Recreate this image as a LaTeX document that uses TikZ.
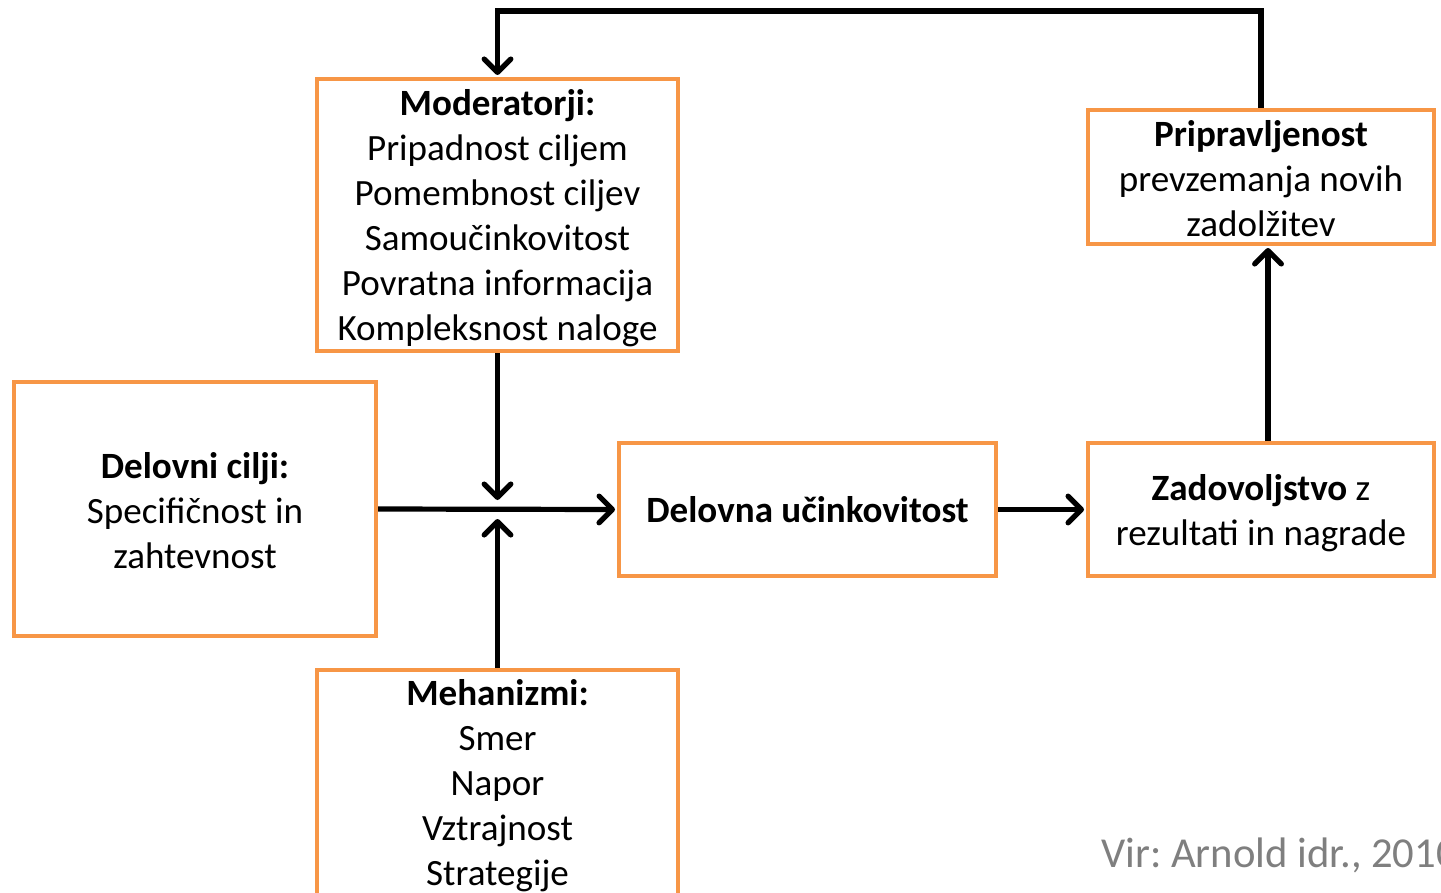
\documentclass[tikz,border=0pt]{standalone}
\usepackage{fontspec}
\setmainfont{Carlito}
\usetikzlibrary{arrows.meta}
\definecolor{boxorange}{HTML}{F79646}
\definecolor{srcgray}{HTML}{7F7F7F}
\frenchspacing
\tikzset{
  box/.style={draw=boxorange, line width=3pt, fill=white, inner sep=0pt},
  txt/.style={align=center, inner sep=0pt, font=\fontsize{27.8}{33.75}\selectfont},
  arr/.style={line width=3.9pt, -{Straight Barb[length=10pt,width=20pt,line cap=round,line join=round]}},
}
\begin{document}
\begin{tikzpicture}[x=0.75pt,y=-0.75pt]
\clip (0,0) rectangle (1441,892);
\useasboundingbox (0,0) rectangle (1441,892);
\fill[white] (0,0) rectangle (1441,892);

\node[box, minimum width=270.75pt, minimum height=204pt] (mod) at (497.5,215) {};
\node[txt] (modt) at (497.5,218)
  {\textbf{Moderatorji:}\\Pripadnost ciljem\\Pomembnost ciljev\\Samoučinkovitost\\Povratna informacija\\Kompleksnost naloge};
\node[box, minimum width=271.5pt, minimum height=190.5pt] (cilji) at (195,509) {};
\node[txt] (ciljit) at (195,510.5)
  {\textbf{Delovni cilji:}\\Specifičnost in\\zahtevnost};
\node[box, minimum width=270.75pt, minimum height=169.5pt] (meh) at (497.5,783) {};
\node[txt] (meht) at (497.5,786)
  {\textbf{Mehanizmi:}\\Smer\\Napor\\Vztrajnost\\Strategije};
\node[box, minimum width=282.75pt, minimum height=99.75pt] (delo) at (807.5,509.5) {};
\node[txt] (delot) at (807.5,509.5)
  {\textbf{Delovna učinkovitost}};
\node[box, minimum width=259.5pt, minimum height=99.75pt] (zad) at (1261,509.5) {};
\node[txt] (zadt) at (1261,513)
  {\textbf{Zadovoljstvo} z\\rezultati in nagrade};
\node[box, minimum width=259.5pt, minimum height=100.5pt] (prip) at (1261,177) {};
\node[txt] (pript) at (1261,179)
  {\textbf{Pripravljenost}\\prevzemanja novih\\zadolžitev};

\node[anchor=base west, inner sep=0pt, text=srcgray, font=\fontsize{32}{38}\selectfont] (vir) at (1101,867) {Vir: Arnold idr., 2010};

\coordinate (jn) at (497.5,500);
\coordinate (js) at (497.5,519);
\coordinate (topy) at (0,11);

\draw[arr] (cilji.east) -- ([xshift=-1.5pt]delo.west);
\draw[arr] (mod.south) -- (jn);
\draw[arr] (meh.north) -- (js);
\draw[arr] (delo.east) -- ([xshift=-1.5pt]zad.west);
\draw[arr] ([xshift=5.25pt]zad.north) -- ([xshift=5.25pt,yshift=-1.5pt]prip.south);
\draw[arr] (prip.north) -- (prip.north |- topy) -- (mod.north |- topy) -- ([yshift=1.5pt]mod.north);
\end{tikzpicture}
\end{document}
